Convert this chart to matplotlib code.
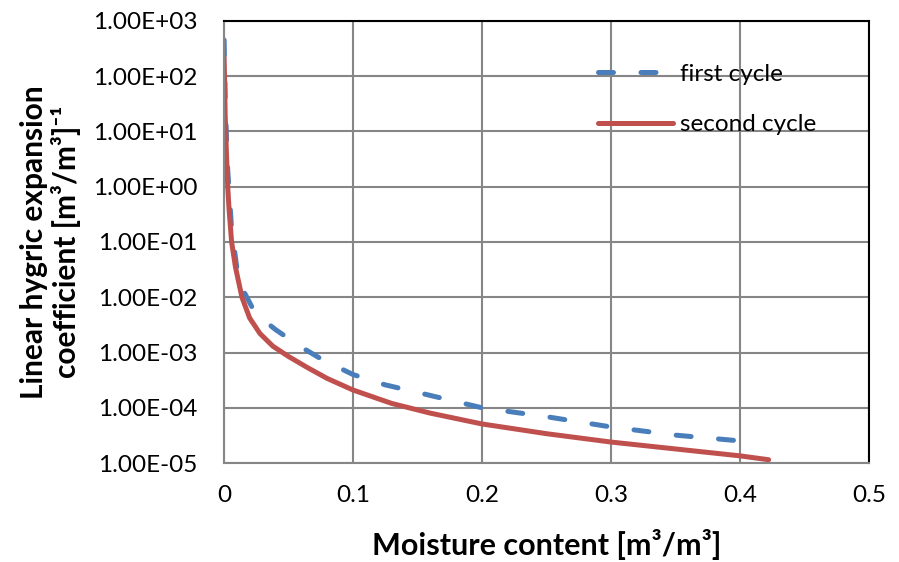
import matplotlib
matplotlib.use("Agg")
import matplotlib.pyplot as plt
from matplotlib.ticker import FixedLocator, FuncFormatter

plt.rcParams['font.family'] = ['Lato', 'DejaVu Sans']

# first cycle (blue dashed)
x_first = [0.0002, 0.0006, 0.001, 0.002, 0.003, 0.006, 0.01, 0.016, 0.022, 0.03,
           0.04, 0.05, 0.06, 0.076, 0.1, 0.125, 0.15, 0.2, 0.25, 0.3, 0.35, 0.41]
y_first = [450, 150, 40, 8, 2, 0.17, 0.035, 0.012, 0.0065, 4e-3,
           2.6e-3, 1.8e-3, 1.25e-3, 7.5e-4, 4e-4, 2.6e-4, 1.9e-4, 1.0e-4, 6.9e-5, 4.5e-5, 3.2e-5, 2.4e-5]

# second cycle (red solid)
x_second = [0.0002, 0.0006, 0.001, 0.002, 0.003, 0.004, 0.006, 0.009, 0.014, 0.02,
            0.028, 0.038, 0.05, 0.065, 0.08, 0.1, 0.13, 0.16, 0.2, 0.25, 0.3, 0.35, 0.4, 0.422]
y_second = [220, 80, 20, 4, 1.0, 0.4, 0.1, 0.035, 0.01, 4.2e-3,
            2.2e-3, 1.3e-3, 8.5e-4, 5.3e-4, 3.4e-4, 2.1e-4, 1.2e-4, 8e-5, 5.1e-5, 3.4e-5, 2.4e-5, 1.8e-5, 1.35e-5, 1.15e-5]

labels = ["first cycle", "second cycle"]
x_ticks = [0, 0.1, 0.2, 0.3, 0.4, 0.5]
y_ticks = [1e-5, 1e-4, 1e-3, 1e-2, 1e-1, 1e0, 1e1, 1e2, 1e3]

fig = plt.figure(figsize=(8.99, 5.62), dpi=100)
ax = fig.add_axes([0.249, 0.176, 0.718, 0.787])

ax.plot(x_first, y_first, color='#4A7EBB', lw=3.6, dashes=(3, 5.5),
        dash_capstyle='round', label=labels[0])
ax.plot(x_second, y_second, color='#C0504D', lw=3.6, solid_capstyle='round',
        label=labels[1])

ax.set_yscale('log')
ax.set_xlim(0, 0.5)
ax.set_ylim(1e-5, 1e3)
ax.xaxis.set_major_locator(FixedLocator(x_ticks))
ax.yaxis.set_major_locator(FixedLocator(y_ticks))
ax.yaxis.set_minor_locator(FixedLocator([]))
ax.xaxis.set_major_formatter(FuncFormatter(lambda v, p: '0' if v == 0 else f'{v:g}'))
ax.yaxis.set_major_formatter(FuncFormatter(lambda v, p: f'{v:.2E}'))

ax.grid(True, color='#868686', lw=1.5)
ax.set_axisbelow(True)
for s in ['left', 'bottom']:
    ax.spines[s].set_color('#868686')
    ax.spines[s].set_linewidth(1.5)
for s in ['top', 'right']:
    ax.spines[s].set_color('black')
    ax.spines[s].set_linewidth(1.5)

ax.tick_params(axis='y', length=0, pad=19, labelsize=17.5)
ax.tick_params(axis='x', length=0, pad=16, labelsize=17.5)

ax.set_xlabel('Moisture content [m³/m³]', fontsize=22, fontweight='bold')
ax.xaxis.set_label_coords(0.5, -0.15)
ax.set_ylabel('Linear hygric expansion\ncoefficient [m³/m³]⁻¹', fontsize=21.5,
              fontweight='bold', linespacing=1.1)
ax.yaxis.set_label_coords(-0.222, 0.5)

ax.legend(loc='upper left', bbox_to_anchor=(0.545, 0.952), frameon=False,
          fontsize=17.5, labelspacing=1.2, handlelength=3.1, handletextpad=0.3)

fig.savefig('out.png', dpi=100)
